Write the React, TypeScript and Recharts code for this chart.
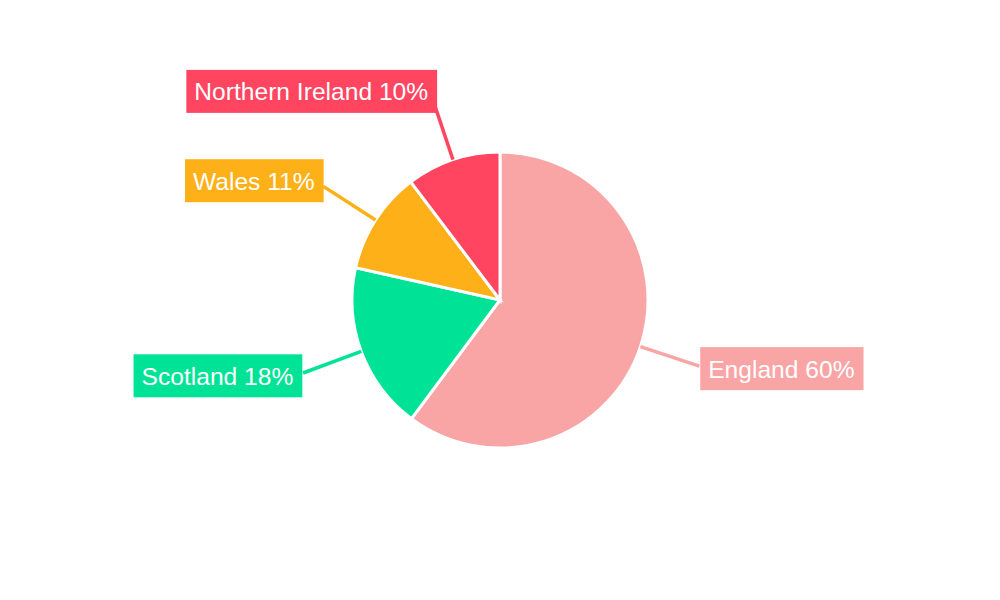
import { Cell, Pie, PieChart } from 'recharts'

const regions = ['England', 'Scotland', 'Wales', 'Northern Ireland']
const shares = [60.2, 18.3, 11.2, 10.3]
const colors = ['#f9a5a6', '#00e396', '#feb019', '#ff4560']

const data = regions.map((name, i) => ({ name, value: shares[i] }))

const RAD = Math.PI / 180
const FONT_SIZE = 24.6
const FONT = `${FONT_SIZE}px "Liberation Sans", Arial, sans-serif`

let ctx: CanvasRenderingContext2D | null = null
function textWidth(s: string) {
  if (!ctx) ctx = document.createElement('canvas').getContext('2d')
  if (!ctx) return s.length * 12
  ctx.font = FONT
  return ctx.measureText(s).width
}

// label box sits at the end of a short leader line, on the outside of the slice
function BoxLabel(props: any) {
  const { cx, cy, midAngle, outerRadius, percent, name, index } = props
  const color = colors[index]
  const cos = Math.cos(-midAngle * RAD)
  const sin = Math.sin(-midAngle * RAD)
  const x0 = cx + outerRadius * cos
  const y0 = cy + outerRadius * sin
  const r1 = outerRadius + 62
  const x1 = cx + r1 * cos
  const y1 = cy + r1 * sin
  const text = `${name} ${Math.round(percent * 100)}%`
  const w = textWidth(text) + 17
  const h = 43
  const right = cos >= 0
  const push = 1.5 - 6 * sin * sin
  const edge = right ? x1 + push : x1 - push
  const bx = right ? edge : edge - w
  const midY = y1 + 9.5 * sin - 0.5
  const by = midY - h / 2
  return (
    <g>
      <line x1={x0} y1={y0} x2={x1} y2={y1} stroke={color} strokeWidth={3.5} />
      <rect x={bx} y={by} width={w} height={h} fill={color} />
      <text x={bx + 8} y={midY + 9} fill="#fff" style={{ font: FONT }}>
        {text}
      </text>
    </g>
  )
}

export default function App() {
  return (
    <div style={{ position: 'absolute', left: 0, top: 0, width: 1000, height: 600, background: '#fff' }}>
      <PieChart width={1000} height={600} margin={{ top: 0, right: 0, bottom: 0, left: 0 }}>
        <Pie
          data={data}
          dataKey="value"
          nameKey="name"
          cx={500}
          cy={300}
          outerRadius={148}
          startAngle={90}
          endAngle={-270}
          stroke="#fff"
          strokeWidth={3}
          label={BoxLabel}
          labelLine={false}
          isAnimationActive={false}
        >
          {data.map((d, i) => (
            <Cell key={d.name} fill={colors[i]} />
          ))}
        </Pie>
      </PieChart>
    </div>
  )
}
